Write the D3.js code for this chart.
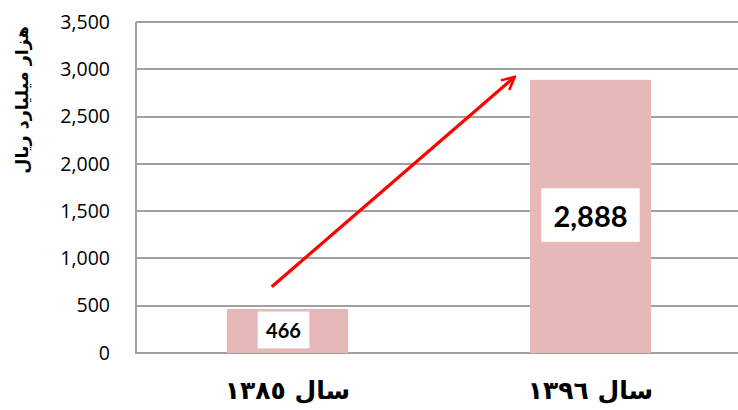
<!DOCTYPE html>
<html>
<head>
<meta charset="utf-8">
<script src="https://cdn.jsdelivr.net/npm/d3@7"></script>
<style>
  body { margin: 0; background: #fff; }
  svg { display: block; }
</style>
</head>
<body>
<div id="chart"></div>
<script>
var categories = ["سال ١٣٨٥", "سال ١٣٩٦"];
var values = [466, 2888];
var yTicks = [0, 500, 1000, 1500, 2000, 2500, 3000, 3500];
var yTitle = "هزار میلیارد ریال";
// arrow annotation, in data units
var arrowFrom = 700, arrowTo = 2920;

var width = 738, height = 410;
var margin = { top: 22, right: -4, bottom: 57, left: 136 };

var svg = d3.select("#chart").append("svg")
  .attr("width", width)
  .attr("height", height);

var x = d3.scaleBand()
  .domain(categories)
  .range([margin.left, width - margin.right])
  .paddingInner(0.6)
  .paddingOuter(0.3);

var y = d3.scaleLinear()
  .domain([0, 3500])
  .range([height - margin.bottom, margin.top]);

// gridlines
svg.append("g")
  .selectAll("line")
  .data(yTicks)
  .enter()
  .append("line")
  .attr("x1", margin.left)
  .attr("x2", width)
  .attr("y1", function(d) { return Math.round(y(d)); })
  .attr("y2", function(d) { return Math.round(y(d)); })
  .attr("stroke", "#a0a0a0")
  .attr("stroke-width", 2);

// left axis line
svg.append("line")
  .attr("x1", margin.left).attr("x2", margin.left)
  .attr("y1", y(3500)).attr("y2", y(0) + 1)
  .attr("stroke", "#a0a0a0")
  .attr("stroke-width", 2);

// y tick labels
var yAxis = svg.append("g")
  .attr("transform", "translate(" + margin.left + ",0)")
  .call(d3.axisLeft(y).tickValues(yTicks).tickFormat(d3.format(",")).tickSize(0).tickPadding(26));
yAxis.select(".domain").remove();
yAxis.selectAll("text")
  .attr("font-family", "'Open Sans', sans-serif")
  .attr("font-size", 19.5)
  .attr("fill", "#000");

// bars
svg.append("g")
  .selectAll("rect")
  .data(values)
  .enter()
  .append("rect")
  .attr("x", function(d, i) { return x(categories[i]); })
  .attr("y", function(d) { return y(d); })
  .attr("width", x.bandwidth())
  .attr("height", function(d) { return y(0) - y(d); })
  .attr("fill", "#e6b8b7");

// value labels
var fmt = d3.format(",");
var labelSizes = [20, 29];
var labels = svg.append("g")
  .selectAll("g")
  .data(values)
  .enter()
  .append("g")
  .attr("transform", function(d, i) {
    return "translate(" + (x(categories[i]) + x.bandwidth() / 2 - (i == 0 ? 4 : 0)) + "," + ((y(d) + y(0)) / 2) + ")";
  });

labels.each(function(d, i) {
  var g = d3.select(this);
  var rect = g.append("rect").attr("fill", "#fff");
  var t = g.append("text")
    .attr("text-anchor", "middle")
    .attr("dy", "0.35em")
    .attr("font-family", "Lato, 'Open Sans', sans-serif")
    .attr("font-weight", "bold")
    .attr("font-size", labelSizes[i])
    .attr("fill", "#000")
    .text(fmt(d));
  var bb = t.node().getBBox();
  var padX = labelSizes[i] * 0.42, padY = labelSizes[i] * 0.32;
  rect.attr("x", bb.x - padX)
    .attr("y", bb.y - padY)
    .attr("width", bb.width + padX * 2)
    .attr("height", bb.height + padY * 2);
});

// category labels
svg.append("g")
  .selectAll("text")
  .data(categories)
  .enter()
  .append("text")
  .attr("x", function(d) { return x(d) + x.bandwidth() / 2; })
  .attr("y", 399)
  .attr("text-anchor", "middle")
  .attr("direction", "rtl")
  .attr("font-family", "'DejaVu Sans', sans-serif")
  .attr("font-weight", "bold")
  .attr("font-size", 25)
  .attr("fill", "#000")
  .text(function(d) { return d; });

// y title
svg.append("text")
  .attr("transform", "translate(28,100) rotate(-90)")
  .attr("text-anchor", "middle")
  .attr("direction", "rtl")
  .attr("font-family", "'DejaVu Sans', sans-serif")
  .attr("font-weight", "bold")
  .attr("font-size", 17.5)
  .attr("fill", "#000")
  .text(yTitle);

// arrow
svg.append("defs").append("marker")
  .attr("id", "head")
  .attr("viewBox", "0 0 10 10")
  .attr("refX", 9)
  .attr("refY", 5)
  .attr("markerWidth", 5)
  .attr("markerHeight", 5)
  .attr("orient", "auto")
  .append("path")
  .attr("d", "M1,1 L9,5 L1,9")
  .attr("fill", "none")
  .attr("stroke", "#ff0000")
  .attr("stroke-width", 1.6);

svg.append("line")
  .attr("x1", x(categories[0]) + x.bandwidth() * 0.37)
  .attr("y1", y(arrowFrom))
  .attr("x2", x(categories[1]) - x.bandwidth() * 0.125)
  .attr("y2", y(arrowTo))
  .attr("stroke", "#ff0000")
  .attr("stroke-width", 3.2)
  .attr("marker-end", "url(#head)");
</script>
</body>
</html>
